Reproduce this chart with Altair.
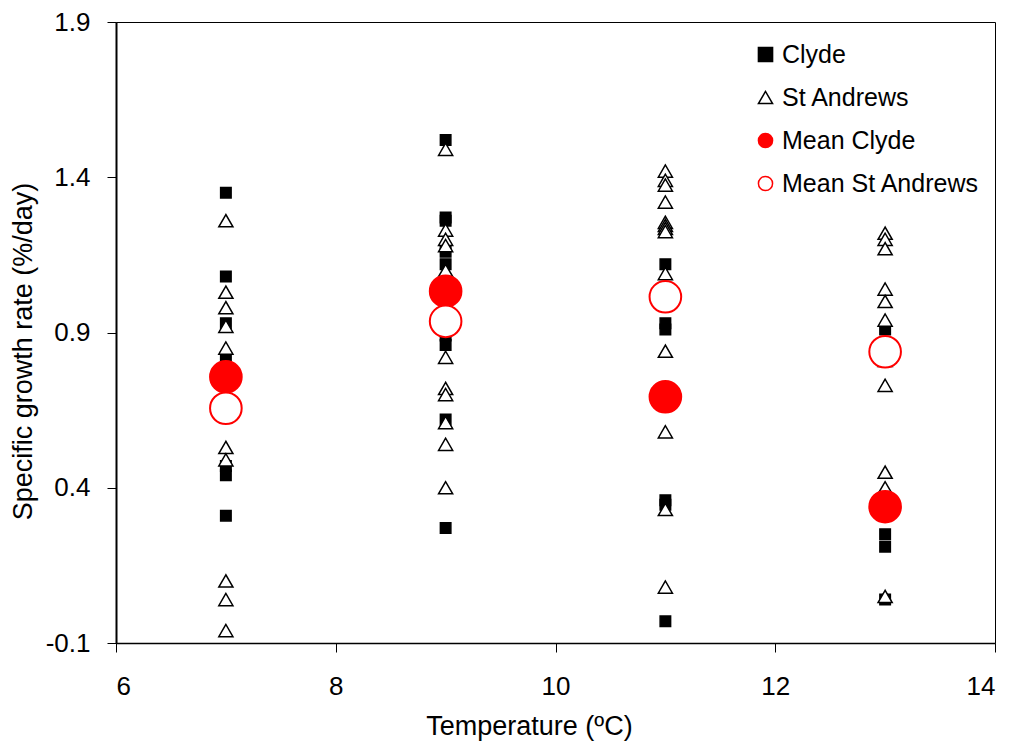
import altair as alt
import pandas as pd

# Raw observations (temperature, specific growth rate)
clyde_temp = [7, 7, 7, 7, 7, 7, 7,
              9, 9, 9, 9, 9, 9, 9, 9, 9,
              11, 11, 11, 11, 11, 11,
              13, 13, 13, 13]
clyde_rate = [1.35, 1.08, 0.93, 0.82, 0.47, 0.44, 0.31,
              1.52, 1.27, 1.26, 1.16, 1.12, 0.89, 0.86, 0.62, 0.27,
              1.12, 0.93, 0.91, 0.36, 0.345, -0.03,
              0.91, 0.25, 0.21, 0.04]

sta_temp = [7] * 10 + [9] * 11 + [11] * 13 + [13] * 11
sta_rate = [1.26, 1.03, 0.98, 0.92, 0.85, 0.53, 0.49, 0.10, 0.04, -0.06,
            1.49, 1.23, 1.20, 1.18, 1.10, 0.82, 0.72, 0.70, 0.61, 0.54, 0.40,
            1.42, 1.39, 1.375, 1.32, 1.255, 1.245, 1.235, 1.225, 1.09, 0.84, 0.58, 0.33, 0.08,
            1.22, 1.20, 1.17, 1.04, 1.00, 0.94, 0.81, 0.73, 0.45, 0.40, 0.05]

mean_temp = [7, 9, 11, 13]
mean_clyde = [0.757, 1.033, 0.693, 0.339]
mean_sta = [0.656, 0.936, 1.015, 0.838]

series = ["Clyde", "St Andrews", "Mean Clyde", "Mean St Andrews"]
shapes = ["square", "triangle-up", "circle", "circle"]
fills = ["black", "white", "red", "white"]
strokes = ["black", "black", "red", "red"]

x_ticks = [6, 8, 10, 12, 14]
y_ticks = [-0.1, 0.4, 0.9, 1.4, 1.9]

raw = pd.DataFrame({
    "temp": clyde_temp + sta_temp,
    "rate": clyde_rate + sta_rate,
    "series": ["Clyde"] * len(clyde_temp) + ["St Andrews"] * len(sta_temp),
})
raw["size"] = raw["series"].map({"Clyde": 110, "St Andrews": 200})

means = pd.DataFrame({
    "temp": mean_temp + mean_temp,
    "rate": mean_clyde + mean_sta,
    "series": ["Mean Clyde"] * 4 + ["Mean St Andrews"] * 4,
})

FONT = "Liberation Sans"

x = alt.X("temp:Q", title="Temperature (ºC)",
          scale=alt.Scale(domain=[6, 14], nice=False, zero=False),
          axis=alt.Axis(values=x_ticks, grid=False, tickSize=9,
                        labelPadding=21, titleY=70, titleX=413, domainWidth=1.5))
y = alt.Y("rate:Q", title="Specific growth rate (%/day)",
          scale=alt.Scale(domain=[-0.1, 1.9], nice=False, zero=False),
          axis=alt.Axis(values=y_ticks, grid=False,
                        labelExpr="datum.value < 0 ? '-' + format(-datum.value, '.1f') : format(datum.value, '.1f')",
                        tickSize=9, labelPadding=17, titlePadding=8, titleY=329,
                        domainWidth=2))

legend = alt.Legend(
    title=None, orient="none", legendX=637, legendY=20, padding=0,
    labelFontSize=25, labelFont=FONT, labelColor="black", rowPadding=17,
    labelOffset=4, labelLimit=400, symbolStrokeWidth=1.5, symbolSize=200,
)

shape_enc = alt.Shape("series:N", scale=alt.Scale(domain=series, range=shapes), legend=legend)
fill_enc = alt.Fill("series:N", scale=alt.Scale(domain=series, range=fills), legend=legend)
stroke_enc = alt.Stroke("series:N", scale=alt.Scale(domain=series, range=strokes), legend=legend)

pts = alt.Chart(raw).mark_point(opacity=1, strokeWidth=1.5).encode(
    x=x, y=y, shape=shape_enc, fill=fill_enc, stroke=stroke_enc,
    size=alt.Size("size:Q", scale=None, legend=None),
)

mean_pts = alt.Chart(means).mark_point(opacity=1, strokeWidth=2, size=1000).encode(
    x=x, y=y, shape=shape_enc, fill=fill_enc, stroke=stroke_enc,
)

chart = alt.layer(pts, mean_pts).properties(
    width=879, height=621,
    autosize=alt.AutoSizeParams(type="none"),
    padding={"left": 116, "top": 22, "right": 19, "bottom": 99},
    background="white",
).configure_view(stroke="black", strokeWidth=1).configure_axis(
    labelFont=FONT, titleFont=FONT, labelFontSize=26, titleFontSize=27,
    titleFontWeight="normal", labelColor="black", titleColor="black",
    domainColor="black", tickColor="black",
)

chart.save("out.html", embed_options={"renderer": "svg", "actions": False})
